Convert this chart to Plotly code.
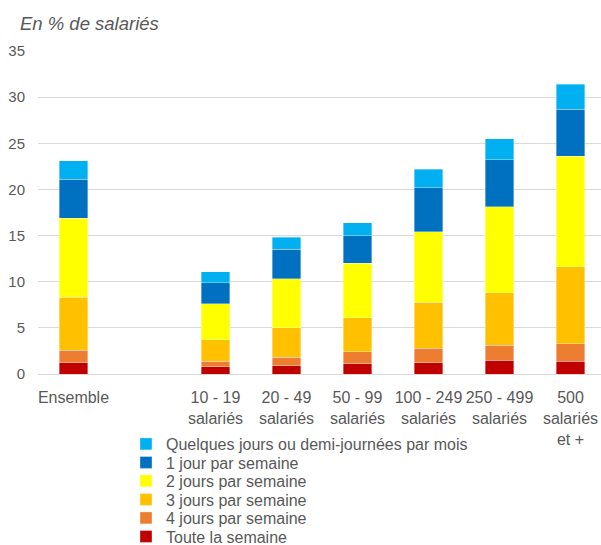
import plotly.graph_objects as go

# Company-size categories (a blank spacer separates "Ensemble" from the size classes)
categories = [
    "Ensemble",
    " ",
    "10 - 19<br>salariés",
    "20 - 49<br>salariés",
    "50 - 99<br>salariés",
    "100 - 249<br>salariés",
    "250 - 499<br>salariés",
    "500<br>salariés<br>et +",
]

# Share of employees (%) by telework frequency, stacked bottom to top
toute_semaine = [1.2, None, 0.8, 0.9, 1.1, 1.2, 1.5, 1.4]
quatre_jours = [1.4, None, 0.6, 0.9, 1.3, 1.6, 1.6, 1.9]
trois_jours = [5.7, None, 2.3, 3.2, 3.7, 5.0, 5.7, 8.3]
deux_jours = [8.6, None, 3.9, 5.3, 5.9, 7.6, 9.3, 12.0]
un_jour = [4.2, None, 2.3, 3.2, 3.0, 4.8, 5.1, 5.1]
quelques_jours = [2.0, None, 1.2, 1.3, 1.4, 2.0, 2.3, 2.7]

series = [
    ("Toute la semaine", toute_semaine, "#C00000"),
    ("4 jours par semaine", quatre_jours, "#ED7D31"),
    ("3 jours par semaine", trois_jours, "#FFC000"),
    ("2 jours par semaine", deux_jours, "#FFFF00"),
    ("1 jour par semaine", un_jour, "#0070C0"),
    ("Quelques jours ou demi-journées par mois", quelques_jours, "#00B0F0"),
]

FONT = "Arial, 'Liberation Sans', sans-serif"
GREY = "#595959"
W, H = 601, 545

fig = go.Figure()
n = len(series)
for i, (name, vals, color) in enumerate(series):
    legend_id = "legend" if i == n - 1 else f"legend{n - i}"
    fig.add_trace(go.Bar(
        x=categories,
        y=vals,
        name=name,
        marker=dict(color=color, line=dict(color="rgba(255,255,255,0.6)", width=0.6)),
        width=0.4,
        legend=legend_id,
    ))

# One single-entry legend per series, stacked top (lightest) to bottom
legend_layouts = {}
first_y, step = 444, 18.5
for k in range(n):
    key = "legend" if k == 0 else f"legend{k + 1}"
    legend_layouts[key] = dict(
        xref="container", yref="container",
        x=126 / W, xanchor="left",
        y=1 - (first_y + k * step) / H, yanchor="middle",
        font=dict(family=FONT, size=16, color=GREY),
        bgcolor="rgba(0,0,0,0)",
        borderwidth=0,
    )

fig.update_layout(
    width=W, height=H,
    margin=dict(l=38, r=0, t=51, b=171, autoexpand=False),
    paper_bgcolor="white", plot_bgcolor="white",
    barmode="stack",
    showlegend=True,
    title=dict(
        text="<i>En % de salariés</i>",
        font=dict(family=FONT, size=18.5, color=GREY),
        xref="container", yref="container",
        x=20 / W, xanchor="left",
        y=1 - 24 / H, yanchor="middle",
    ),
    xaxis=dict(
        type="category",
        categoryorder="array", categoryarray=categories,
        range=[-0.5, 7.43],
        showgrid=False, zeroline=False, showline=False,
        ticks="",
        tickangle=0,
        tickfont=dict(family=FONT, size=16, color=GREY),
        ticklabelstandoff=12,
        fixedrange=True,
    ),
    yaxis=dict(
        range=[0, 35],
        tickvals=[0, 5, 10, 15, 20, 25, 30, 35],
        showgrid=True, gridcolor="#D9D9D9", gridwidth=1.3,
        zeroline=True, zerolinecolor="#D9D9D9", zerolinewidth=1.3,
        showline=False, ticks="",
        tickfont=dict(family=FONT, size=15, color=GREY),
        ticklabelstandoff=12,
        fixedrange=True,
    ),
    **legend_layouts,
)

fig.write_html("out.html")
